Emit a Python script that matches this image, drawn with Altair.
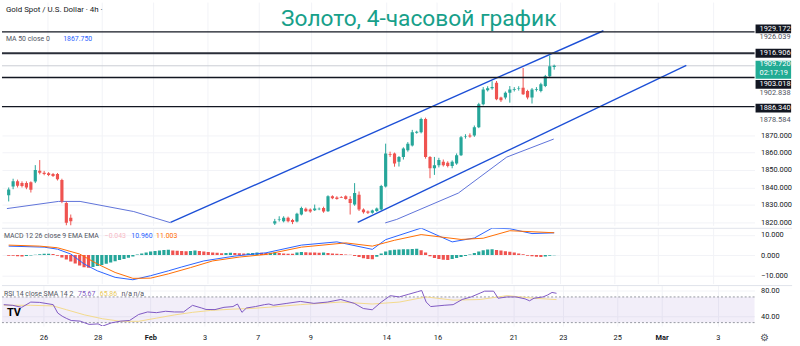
import json
import altair as alt
import pandas as pd

# ---------------- data ----------------
# candles (bar number = 4h bar index from the left edge of the view)
bars_left = list(range(0, 15))
open_left = [1835.5, 1840.5, 1843.5, 1842.5, 1842.5, 1843.0, 1843.4, 1849.6, 1848.5, 1848.1, 1847.7, 1847.7, 1844.3, 1831.1, 1822.6]
high_left = [1840.0, 1845.0, 1844.5, 1843.5, 1843.5, 1843.5, 1852.8, 1855.7, 1849.5, 1848.8, 1848.3, 1848.3, 1845.0, 1832.0, 1824.5]
low_left = [1832.0, 1839.0, 1840.0, 1840.0, 1839.0, 1837.1, 1842.5, 1847.5, 1847.0, 1846.5, 1846.0, 1844.0, 1831.0, 1817.0, 1817.0]
close_left = [1838.8, 1843.5, 1841.0, 1840.8, 1840.0, 1838.7, 1850.0, 1848.5, 1847.7, 1847.2, 1846.6, 1844.7, 1832.0, 1819.8, 1820.7]

bars_mid = list(range(60, 124))
open_mid = [1819.4, 1821.5, 1820.7, 1822.7, 1821.3, 1820.5, 1824.5, 1827.8, 1827.4, 1827.0, 1827.5, 1828.3, 1826.4,
            1834.9, 1834.3, 1834.5, 1834.9, 1833.4, 1830.2, 1835.8, 1827.4, 1826.2, 1825.5, 1826.5, 1827.4,
            1840.5, 1859.2, 1859.4, 1854.7, 1857.5, 1861.3, 1864.1, 1871.4, 1871.7, 1879.3, 1857.5, 1851.0, 1852.8,
            1854.7, 1854.1, 1852.3, 1853.8, 1858.5, 1869.0, 1869.8, 1869.8, 1874.5, 1887.7, 1895.7, 1896.8, 1900.0,
            1891.5, 1891.5, 1894.3, 1896.0, 1896.5, 1897.1, 1895.3, 1891.5, 1896.0, 1895.3, 1898.1, 1903.8, 1909.0]
high_mid = [1822.0, 1823.5, 1823.5, 1823.3, 1822.0, 1825.5, 1829.0, 1828.5, 1828.0, 1830.2, 1828.5, 1829.0, 1835.5,
            1835.5, 1835.0, 1835.0, 1835.5, 1835.0, 1842.5, 1837.7, 1828.0, 1826.8, 1827.3, 1828.5, 1841.5,
            1865.1, 1860.5, 1860.0, 1858.0, 1863.0, 1866.0, 1873.0, 1872.5, 1880.0, 1880.0, 1858.0, 1857.5, 1857.0,
            1856.0, 1855.0, 1855.5, 1859.5, 1869.5, 1870.5, 1871.0, 1875.5, 1888.5, 1897.5, 1898.0, 1900.9, 1901.0,
            1892.0, 1895.0, 1898.1, 1897.5, 1898.0, 1908.5, 1896.0, 1897.0, 1897.5, 1900.0, 1904.5, 1915.6, 1910.4]
low_mid = [1818.5, 1820.5, 1820.0, 1820.0, 1819.0, 1820.0, 1824.0, 1826.0, 1825.5, 1826.5, 1827.0, 1825.5, 1826.0,
           1833.3, 1833.0, 1834.0, 1833.0, 1824.5, 1829.5, 1826.5, 1825.0, 1824.8, 1825.0, 1826.0, 1827.0,
           1840.0, 1857.5, 1851.9, 1852.0, 1856.0, 1860.5, 1863.5, 1870.8, 1871.0, 1856.5, 1845.3, 1847.2, 1851.5,
           1852.0, 1851.5, 1851.0, 1853.0, 1858.0, 1868.0, 1868.5, 1869.0, 1874.0, 1887.0, 1895.0, 1896.0, 1890.0,
           1889.0, 1890.5, 1888.6, 1895.0, 1895.5, 1893.0, 1890.5, 1888.1, 1895.0, 1894.5, 1897.5, 1903.0, 1907.5]
close_mid = [1820.7, 1821.8, 1822.7, 1820.7, 1820.2, 1824.9, 1828.3, 1826.4, 1826.2, 1827.9, 1827.8, 1826.2, 1834.9,
             1833.8, 1833.4, 1834.1, 1833.4, 1831.1, 1836.8, 1827.4, 1825.8, 1825.5, 1826.8, 1827.9, 1840.9,
             1859.4, 1858.8, 1853.8, 1857.5, 1862.3, 1865.1, 1871.7, 1871.9, 1879.3, 1857.5, 1851.0, 1852.8, 1855.7,
             1852.8, 1852.3, 1854.7, 1858.5, 1868.8, 1869.4, 1869.2, 1874.5, 1887.7, 1896.2, 1896.8, 1897.5, 1890.6,
             1890.0, 1894.3, 1896.2, 1896.4, 1896.9, 1893.4, 1891.5, 1896.2, 1896.4, 1899.1, 1903.8, 1909.4, 1909.72]

# MA 50 (two visible stretches)
ma_seg = ["a", "a", "a", "a", "a", "b", "b", "b", "b", "b"]
ma_bar = [-0.4, 11.2, 16.1, 28.2, 36.5, 84.9, 87.5, 101.4, 112.3, 122.9]
ma_val = [1827.9, 1832.0, 1832.0, 1826.2, 1819.8, 1819.7, 1821.7, 1836.8, 1857.4, 1867.75]

# channel lines
chan_id = ["up", "up", "lo", "lo"]
chan_bar = [36.5, 134.1, 78.7, 152.8]
chan_val = [1820.0, 1929.8, 1820.0, 1910.0]

# horizontal levels and price scale labels
levels_plain = [1929.172, 1903.018, 1886.340]
level_bold = [1916.906]
last_price = [1909.720]
countdown = ["02:17:19"]
gray_marks = [1926.039, 1878.584]
gray_mark_low = [1902.838]
price_ticks = [1820, 1830, 1840, 1850, 1860, 1870]

# MACD
hist_val = [-0.3, -0.4, -0.6, -0.7, -0.5, -0.2, 0.1, 0.4, 0.6, 0.7, 0.5, -0.3, -1.2, -2.2, -3.2,
            -4.2, -5.2, -6.0, -6.3, -5.9, -5.4, -4.9, -4.3, -3.7, -3.1, -2.5, -1.9, -1.3, -0.7,
            0.3, 0.8, 1.3, 1.7, 2.0, 2.3, 2.5, 2.6, 2.3, 2.1, 2.0, 1.9, 2.0, 2.2, 2.0,
            1.7, 1.5, 1.3, 1.1, 0.9, 1.0, 1.1, 1.0, 0.9, 0.8, 0.9, 1.0, 1.2, 1.1, 1.0, 1.1,
            1.2, 1.0, 0.8, 0.7, 0.6, 1.3, 1.5, 1.4, 1.3, 1.2, 1.1, 1.2, 1.0, 0.8, 0.6, 0.5, 0.3, 0.1,
            -0.5, -1.0, -1.6, -2.0, -2.1, -0.8,
            0.8, 1.8, 2.4, 2.6, 2.7, 2.8, 2.9, 3.0, 3.1, 2.4, 1.2,
            -0.6, -1.4, -2.0, -2.3, -2.4, -2.0, -1.5, -1.0, -0.5,
            0.3, 1.0, 1.8, 2.4, 2.7, 2.8, 2.5, 2.2, 1.9, 1.6, 1.2, 0.8, 0.4,
            -0.3, -0.6, -0.9, -1.0, -0.7, -0.4, -0.043]
hist_bar = list(range(0, len(hist_val)))
macd_bar = [0, 8, 11, 14, 17, 20, 24, 28, 32, 36, 39, 44, 51, 58, 66, 74, 82, 85, 93, 100, 105, 109, 113, 118, 123]
macd_val = [4.4, 3.9, 2.9, 0.5, -4.4, -7.8, -11.0, -12.2, -10.2, -7.8, -5.9, -2.9, -0.5, 1.1, 4.9, 6.5, 2.8, 7.6,
            13.3, 6.5, 8.4, 13.3, 13.0, 10.6, 10.96]
sig_bar = [0, 7, 11, 16, 20, 24, 28, 32, 36, 41, 46, 52, 58, 66, 76, 82, 87, 93, 102, 107, 113, 123]
sig_val = [4.9, 4.4, 3.6, 0.5, -4.4, -8.6, -11.5, -11.4, -9.3, -6.2, -2.9, -1.0, 0.3, 3.9, 6.0, 4.4, 7.3, 10.1,
           7.7, 8.3, 12.0, 11.003]

# RSI
rsi_bar = [0, 2, 4, 6, 8, 11, 12, 13, 14, 15, 17, 18, 19, 21, 22, 24, 26, 28, 30, 32, 34, 36, 38, 40, 41, 42, 44,
           45, 47, 49, 51, 52, 53, 54, 56, 58, 59, 60, 63, 66, 69, 72, 75, 78, 80, 82, 84, 86, 88, 90, 92, 93, 94,
           95, 98, 100, 102, 104, 106, 107, 109, 110, 112, 114, 116, 117, 118, 120, 121, 122, 123]
rsi_val = [58.0, 56.9, 53.8, 62.0, 61.5, 58.0, 45.0, 40.0, 36.4, 33.3, 32.3, 29.7, 27.2, 28.0, 24.6, 29.7, 32.3,
           33.3, 42.6, 46.6, 45.5, 47.7, 46.6, 46.6, 51.8, 56.9, 52.8, 50.5, 50.3, 53.8, 55.0, 59.0, 46.0, 52.8,
           55.0, 58.0, 59.0, 57, 60, 63, 60, 62, 66, 60, 52, 50, 62, 72, 70, 74, 78, 80, 62, 55, 57, 58, 66, 70,
           76, 79, 79, 68, 70, 70, 67, 64, 68, 70, 73, 77, 75.67]
sma_bar = [0, 6, 11, 14, 18, 22, 26, 30, 34, 38, 42, 46, 51, 55, 59, 66, 75, 82, 88, 94, 100, 106, 112, 118, 123]
sma_val = [57, 57, 56, 50, 42, 36, 32, 32, 37, 42, 46, 49, 51, 52, 54, 58, 62, 59, 62, 70, 65, 66, 72, 68, 65.86]

# time axis
tick_pos = [8.83, 20.9, 32.6, 44.7, 56.5, 68.2, 85.1, 96.5, 113.4, 124.4, 136.5, 146.4, 158.9]
tick_lab = ["26", "28", "Feb", "3", "7", "9", "14", "16", "21", "23", "25", "Mar", "3"]

# ---------------- layout / style ----------------
W = 762
PX_PER_BAR = 4.55
XDOM = [-0.4, -0.4 + W / PX_PER_BAR]
H_PRICE, H_MACD, H_RSI = 226, 56, 41
FONT = "Roboto"
GRID = "#f2f3f7"
TXT = "#131722"
UP, DOWN = "#26a69a", "#ef5350"

xscale = alt.Scale(domain=XDOM, nice=False, zero=False)
x_axis_hidden = alt.Axis(values=tick_pos, labels=False, ticks=False, domain=False, grid=True,
                         gridColor=GRID, title=None)
label_expr = f"{json.dumps(tick_lab)}[indexof({json.dumps(tick_pos)}, datum.value)]"
x_axis_bottom = alt.Axis(values=tick_pos, labelExpr=label_expr, ticks=False, domain=False, grid=True,
                         gridColor=GRID, title=None, labelFontSize=7.5, labelColor=TXT, labelPadding=8,
                         labelFont=FONT,
                         labelFontWeight={"condition": {"test": f"datum.value == {tick_pos[2]} || datum.value == {tick_pos[11]}",
                                                        "value": "bold"}, "value": "normal"})


def XE(field, axis):
    return alt.X(f"{field}:Q", scale=xscale, axis=axis)


def right_axis(values, fmt):
    return alt.Axis(orient="right", values=values, format=fmt, ticks=False, domain=False, grid=True,
                    gridColor=GRID, title=None, labelFontSize=7.5, labelColor=TXT, labelPadding=6,
                    labelFont=FONT)


price_scale = alt.Scale(domain=[1818.3, 1946.2], nice=False, zero=False)
price_axis = right_axis(price_ticks, ".3f")


def YP(field):
    return alt.Y(f"{field}:Q", scale=price_scale, axis=price_axis)


def one(text):
    return pd.DataFrame({"t": [text]})


def label(text, x, y, color, size=7.0, weight="normal", align="left"):
    return alt.Chart(one(text)).mark_text(align=align, baseline="middle", font=FONT, fontSize=size,
                                          color=color, fontWeight=weight).encode(
        x=alt.value(x), y=alt.value(y), text="t:N")


# ---------------- price panel ----------------
cdf = pd.DataFrame({
    "bar": bars_left + bars_mid,
    "open": open_left + open_mid,
    "high": high_left + high_mid,
    "low": low_left + low_mid,
    "close": close_left + close_mid,
})
cdf["dir"] = ["up" if c >= o else "down" for o, c in zip(cdf["open"], cdf["close"])]
dir_color = alt.Color("dir:N", scale=alt.Scale(domain=["up", "down"], range=[UP, DOWN]), legend=None)

wicks = alt.Chart(cdf).mark_rule(strokeWidth=1, clip=True).encode(
    x=XE("bar", x_axis_hidden), y=YP("low"), y2="high", color=dir_color)
bodies = alt.Chart(cdf).mark_bar(width=3.2, clip=True).encode(
    x=XE("bar", x_axis_hidden), y=YP("open"), y2="close", color=dir_color)

lv = alt.Chart(pd.DataFrame({"v": levels_plain})).mark_rule(color=TXT, strokeWidth=1.3).encode(
    x=alt.value(0), x2=alt.value(W), y=YP("v"))
lvb = alt.Chart(pd.DataFrame({"v": level_bold})).mark_rule(color="#2a2e39", strokeWidth=2.2).encode(
    x=alt.value(0), x2=alt.value(W), y=YP("v"))
lastline = alt.Chart(pd.DataFrame({"v": last_price})).mark_rule(color="#c9ccd3", strokeWidth=1).encode(
    x=alt.value(0), x2=alt.value(W), y=YP("v"))

chan = alt.Chart(pd.DataFrame({"id": chan_id, "bar": chan_bar, "v": chan_val})).mark_line(
    color="#1c4fd6", strokeWidth=1.4, clip=True).encode(
    x=XE("bar", x_axis_hidden), y=YP("v"), detail="id:N")
ma = alt.Chart(pd.DataFrame({"seg": ma_seg, "bar": ma_bar, "v": ma_val})).mark_line(
    color="#5d72d8", strokeWidth=1, clip=True).encode(
    x=XE("bar", x_axis_hidden), y=YP("v"), detail="seg:N")


def side_box(vals, color, sw, yoff=0):
    return alt.Chart(pd.DataFrame({"v": vals})).mark_rule(color=color, strokeWidth=sw, yOffset=yoff).encode(
        x=alt.value(W + 1), x2=alt.value(W + 37), y=YP("v"))


def side_text(vals, color, dy=0):
    return alt.Chart(pd.DataFrame({"v": vals})).mark_text(
        align="left", baseline="middle", font=FONT, fontSize=7.5, color=color, dy=dy).encode(
        x=alt.value(W + 5), y=YP("v"), text=alt.Text("v:Q", format=".3f"))


side = [
    side_box([levels_plain[0]], TXT, 9, -3), side_text([levels_plain[0]], "white", -3),
    side_box(level_bold, TXT, 9, 0), side_text(level_bold, "white", 0),
    side_box(last_price, "#22ab94", 18, 4), side_text(last_price, "white", -2),
    alt.Chart(pd.DataFrame({"v": last_price, "t": countdown})).mark_text(
        align="left", baseline="middle", font=FONT, fontSize=7.5, color="white", dy=7).encode(
        x=alt.value(W + 5), y=YP("v"), text="t:N"),
    side_box([levels_plain[1]], TXT, 9, 7), side_text([levels_plain[1]], "white", 7),
    side_box([levels_plain[2]], TXT, 9, 1.5), side_text([levels_plain[2]], "white", 1.5),
    side_text(gray_marks, "#50535e", 0),
    side_text(gray_mark_low, "#50535e", 15.5),
]

price = alt.layer(
    lastline, chan, ma, wicks, bodies, lv, lvb, *side,
    label("Gold Spot / U.S. Dollar · 4h ·", 4, 8, TXT, 8),
    label("MA 50 close 0", 4, 37, "#50535e", 7),
    label("1867.750", 62, 37, "#2962ff", 7),
    label("Золото, 4-часовой график", 422, 17, "#17a08a", 23, align="center"),
).properties(width=W, height=H_PRICE)

# ---------------- MACD panel ----------------
hdf = pd.DataFrame({"bar": hist_bar, "h": hist_val})
prev = [hist_val[0]] + hist_val[:-1]
tone = []
for h, p in zip(hist_val, prev):
    if h >= 0:
        tone.append("gu" if h > p else "gd")
    else:
        tone.append("ru" if h > p else "rd")
hdf["tone"] = tone

macd_scale = alt.Scale(domain=[-14.1, 13.2], nice=False, zero=False)
macd_axis = right_axis([10, 0, -10], ".3f")


def YM(field):
    return alt.Y(f"{field}:Q", scale=macd_scale, axis=macd_axis)


hist = alt.Chart(hdf).transform_calculate(zero="0").mark_bar(width=3.2, clip=True).encode(
    x=XE("bar", x_axis_hidden), y=YM("h"), y2="zero:Q",
    color=alt.Color("tone:N", scale=alt.Scale(domain=["gu", "gd", "ru", "rd"],
                                              range=["#26a69a", "#b2dfdb", "#ffcdd2", "#ff5252"]), legend=None))
macd_line = alt.Chart(pd.DataFrame({"bar": macd_bar, "v": macd_val})).mark_line(
    color="#2962ff", strokeWidth=1, clip=True).encode(x=XE("bar", x_axis_hidden), y=YM("v"))
sig_line = alt.Chart(pd.DataFrame({"bar": sig_bar, "v": sig_val})).mark_line(
    color="#ff6d00", strokeWidth=1, clip=True).encode(x=XE("bar", x_axis_hidden), y=YM("v"))
sep = alt.Chart(one("")).mark_rule(color="#e0e3eb", strokeWidth=1).encode(
    x=alt.value(0), x2=alt.value(800), y=alt.value(0))

macd = alt.layer(
    sep, hist, macd_line, sig_line,
    label("MACD 12 26 close 9 EMA EMA", 2, 8, "#50535e"),
    label("−0.043", 104, 8, "#f7b9c6"),
    label("10.960", 131, 8, "#2962ff"),
    label("11.003", 156, 8, "#ff6d00"),
).properties(width=W, height=H_MACD)

# ---------------- RSI panel ----------------
rsi_scale = alt.Scale(domain=[24.6, 87.7], nice=False, zero=False)
rsi_axis = right_axis([80, 40], ".2f")


def YR(field):
    return alt.Y(f"{field}:Q", scale=rsi_scale, axis=rsi_axis)


band_df = pd.DataFrame({"hi": [70], "lo": [30]})
band = alt.Chart(band_df).mark_rect(color="#7e57c2", opacity=0.1).encode(
    x=alt.value(0), x2=alt.value(W), y=YR("hi"), y2="lo:Q")
band_lines = alt.Chart(pd.DataFrame({"v": [70, 30]})).mark_rule(
    color="#9598a1", strokeDash=[2, 2], strokeWidth=1).encode(x=alt.value(0), x2=alt.value(W), y=YR("v"))
sma_line = alt.Chart(pd.DataFrame({"bar": sma_bar, "v": sma_val})).mark_line(
    color="#f3d98a", strokeWidth=1, clip=True).encode(x=XE("bar", x_axis_bottom), y=YR("v"))
rsi_line = alt.Chart(pd.DataFrame({"bar": rsi_bar, "v": rsi_val})).mark_line(
    color="#7e57c2", strokeWidth=1, clip=True).encode(x=XE("bar", x_axis_bottom), y=YR("v"))

rsi = alt.layer(
    sep, band, band_lines, sma_line, rsi_line,
    label("RSI 14 close SMA 14 2", 2, 9, "#50535e"),
    label("75.67", 77, 9, "#7e57c2"),
    label("65.86", 99, 9, "#e8c75a"),
    label("n/a n/a", 121, 9, "#50535e"),
    label("TV", 5, 28, "#000000", 11, weight="bold"),
    label("⚙", 768, 53, "#50535e", 10),
).properties(width=W, height=H_RSI)

chart = alt.vconcat(price, macd, rsi, spacing=1).properties(
    padding={"left": 0, "top": 0, "right": 0, "bottom": 0},
    background="white",
).configure_view(stroke=None).configure_text(font=FONT)

chart.save("out.html", embed_options={"renderer": "svg", "actions": False})
